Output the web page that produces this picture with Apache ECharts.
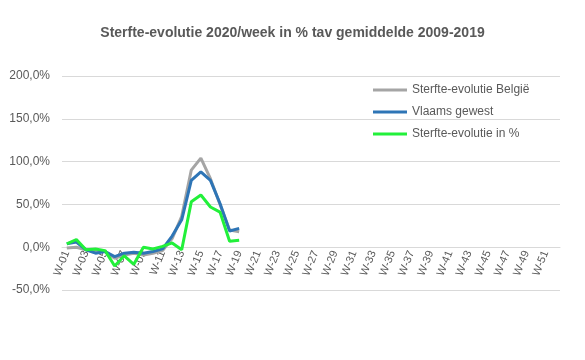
<!DOCTYPE html>
<html><head><meta charset="utf-8">
<script src="https://cdn.jsdelivr.net/npm/echarts@6/dist/echarts.min.js"></script>
<style>html,body{margin:0;padding:0;background:#fff}#c{width:585px;height:360px}</style>
</head><body><div id="c"></div>
<script>
const weeks = [];
for (let i = 1; i <= 52; i++) weeks.push('W-' + String(i).padStart(2, '0'));
const belgie = [-1, 0, -3, -5, -5, -13, -9, -7, -9, -7, -4, 10, 36, 90, 104, 80, 50, 20, 18];
const vlaams = [4, 6, -3, -7, -5, -11, -7, -6, -7, -5, -2, 13, 32, 78, 88, 78, 51, 19, 22];
const groen = [4, 9, -3, -2, -4, -22, -10, -20, 0, -2, 1, 5, -3, 53, 61, 47, 41, 7, 8];
const yTicks = { min: -50, max: 200, interval: 50 };

const chart = echarts.init(document.getElementById('c'));
const font = "'Liberation Sans', Arial, sans-serif";
function line(name, data, color) {
  return { name, type: 'line', data, symbol: 'none', z: 5, lineStyle: { width: 3, color }, itemStyle: { color } };
}
const gridTop = 76, gridBottom = 70, plotH = 360 - gridTop - gridBottom;
const zeroOffset = -plotH * (0 - yTicks.min) / (yTicks.max - yTicks.min);
chart.setOption({
  animation: false,
  title: { text: 'Sterfte-evolutie 2020/week in % tav gemiddelde 2009-2019', left: 'center', top: 21,
    textStyle: { fontFamily: font, fontSize: 14, fontWeight: 'bold', color: '#595959' } },
  legend: { orient: 'vertical', left: 368, top: 79, itemWidth: 34, itemHeight: 3, itemGap: 10,
    icon: 'rect',
    textStyle: { fontFamily: font, fontSize: 12, color: '#595959' },
    data: ['Sterfte-evolutie België', 'Vlaams gewest', 'Sterfte-evolutie in %'] },
  grid: { left: 62, right: 25, top: gridTop, bottom: gridBottom },
  xAxis: { type: 'category', data: weeks, boundaryGap: true, position: 'bottom', offset: zeroOffset, z: 0,
    axisLine: { onZero: false, lineStyle: { color: '#D9D9D9' } }, axisTick: { show: false },
    axisLabel: { interval: 1, rotate: 68, fontFamily: font, fontSize: 11, color: '#595959', margin: 4 } },
  yAxis: { type: 'value', min: yTicks.min, max: yTicks.max, interval: yTicks.interval,
    axisLine: { show: false }, axisTick: { show: false },
    splitLine: { lineStyle: { color: '#D9D9D9' } },
    axisLabel: { fontFamily: font, fontSize: 12, color: '#595959', margin: 12,
      formatter: v => v.toFixed(1).replace('.', ',') + '%' } },
  series: [
    line('Sterfte-evolutie België', belgie, '#A5A5A5'),
    line('Vlaams gewest', vlaams, '#2E75B6'),
    line('Sterfte-evolutie in %', groen, '#22F03A')
  ]
});
</script></body></html>
